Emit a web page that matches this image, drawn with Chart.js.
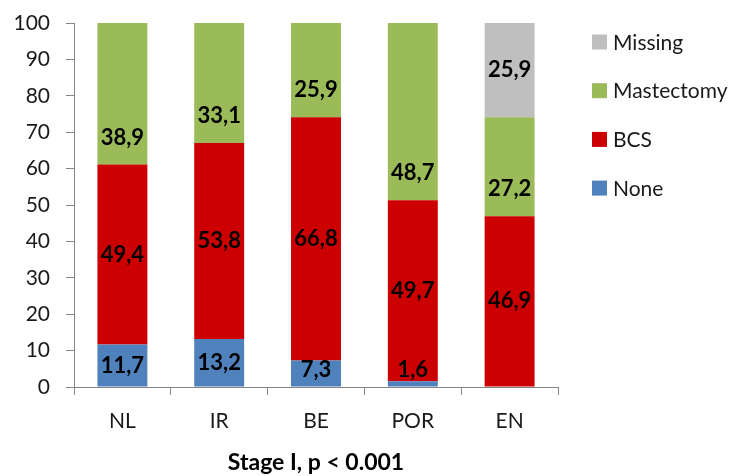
<!DOCTYPE html>
<html>
<head>
<meta charset="utf-8">
<script src="https://cdn.jsdelivr.net/npm/chart.js@4.4.1/dist/chart.umd.min.js"></script>
<style>
  html, body { margin: 0; padding: 0; background: #ffffff; }
  #wrap { width: 745px; height: 476px; position: relative; }
</style>
</head>
<body>
<div id="wrap"><canvas id="chart" width="745" height="476"></canvas></div>
<script>
// Treatment share (%) per country, stage I (null = no segment)
const countries = ['NL', 'IR', 'BE', 'POR', 'EN'];
const noneValues = [11.7, 13.2, 7.3, 1.6, null];
const bcsValues = [49.4, 53.8, 66.8, 49.7, 46.9];
const mastectomyValues = [38.9, 33.1, 25.9, 48.7, 27.2];
const missingValues = [null, null, null, null, 25.9];
const yTicks = [0, 10, 20, 30, 40, 50, 60, 70, 80, 90, 100];
const axisTitle = 'Stage I, p < 0.001';

const FONT = 'Lato, "Open Sans", sans-serif';
const AXIS_COLOR = '#868686';

// Value labels written inside each segment (comma as decimal separator)
const segmentLabels = {
  id: 'segmentLabels',
  afterDatasetsDraw(chart) {
    const ctx = chart.ctx;
    ctx.save();
    ctx.font = 'bold 22px ' + FONT;
    ctx.fillStyle = '#000000';
    ctx.textAlign = 'center';
    ctx.textBaseline = 'middle';
    chart.data.datasets.forEach((ds, di) => {
      const meta = chart.getDatasetMeta(di);
      meta.data.forEach((bar, i) => {
        const v = ds.data[i];
        if (!v) return;
        const base = bar.base;
        let y = ds.labelAtBase ? base - 27 : (bar.y + base) / 2;
        y = Math.min(y, base - 17);
        ctx.fillText(v.toFixed(1).replace('.', ','), bar.x, y);
      });
    });
    ctx.restore();
  }
};

// Legend column at the right, top series first
const sideLegend = {
  id: 'sideLegend',
  afterDraw(chart) {
    const ctx = chart.ctx;
    ctx.save();
    ctx.font = '21px ' + FONT;
    ctx.textAlign = 'left';
    ctx.textBaseline = 'middle';
    const items = chart.data.datasets.slice().reverse();
    items.forEach((ds, k) => {
      const cy = 42 + k * 48.7;
      ctx.fillStyle = ds.backgroundColor;
      ctx.fillRect(592, cy - 7.5, 15, 15);
      ctx.fillStyle = '#1a1a1a';
      ctx.fillText(ds.label, 613, cy + 1);
    });
    ctx.restore();
  }
};

new Chart(document.getElementById('chart'), {
  type: 'bar',
  data: {
    labels: countries,
    datasets: [
      { label: 'None', data: noneValues, backgroundColor: '#4F81BD' },
      { label: 'BCS', data: bcsValues, backgroundColor: '#CC0000' },
      { label: 'Mastectomy', data: mastectomyValues, backgroundColor: '#9BBB59', labelAtBase: true },
      { label: 'Missing', data: missingValues, backgroundColor: '#BFBFBF' }
    ]
  },
  options: {
    responsive: false,
    animation: false,
    devicePixelRatio: 1,
    layout: { padding: { top: 23, right: 187, bottom: 0, left: 0 } },
    datasets: { bar: { categoryPercentage: 1, barPercentage: 0.516, borderWidth: 0 } },
    plugins: {
      legend: { display: false },
      tooltip: { enabled: false },
      title: { display: false }
    },
    scales: {
      x: {
        stacked: true,
        offset: true,
        grid: { display: true, offset: true, drawOnChartArea: false, drawTicks: true, tickLength: 8, color: AXIS_COLOR, lineWidth: 1 },
        border: { display: true, color: AXIS_COLOR, width: 1 },
        ticks: { color: '#1a1a1a', font: { family: FONT, size: 21 }, padding: 14 },
        title: { display: true, text: axisTitle, color: '#000000', font: { family: FONT, size: 23, weight: 'bold' }, padding: { top: 0, bottom: 0 } },
        afterFit(scale) { scale.height = 89; scale.paddingLeft = 0; scale.paddingRight = 0; }
      },
      y: {
        stacked: true,
        min: 0,
        max: 100,
        afterBuildTicks(scale) { scale.ticks = yTicks.map(v => ({ value: v })); },
        grid: { display: true, drawOnChartArea: false, drawTicks: true, tickLength: 8, color: AXIS_COLOR, lineWidth: 1 },
        border: { display: true, color: AXIS_COLOR, width: 1 },
        ticks: { color: '#1a1a1a', font: { family: FONT, size: 21 }, padding: 16 },
        afterFit(scale) { scale.width = 74; scale.paddingTop = 0; scale.paddingBottom = 0; }
      }
    }
  },
  plugins: [segmentLabels, sideLegend]
});
</script>
</body>
</html>
